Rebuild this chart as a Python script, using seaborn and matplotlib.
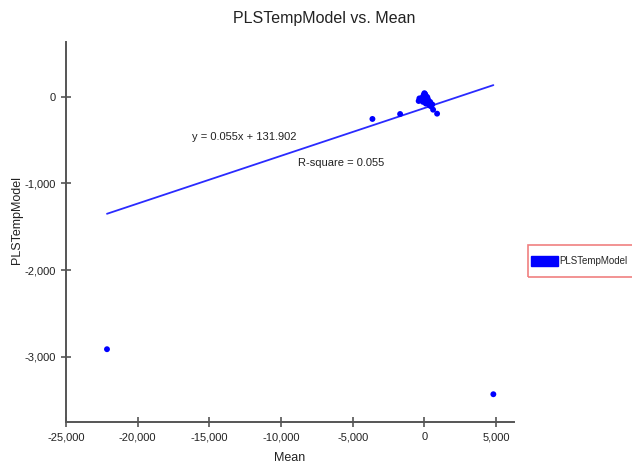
import matplotlib
matplotlib.use("Agg")
import matplotlib.pyplot as plt
import seaborn as sns
import pandas as pd
from matplotlib.patches import Patch, Rectangle

# Data
mean_x = [-22141, 4810, -3625, -1694, 606, 885,
          -250, -150, -50, 0, 50, 100, 150, 200, 250, 300,
          100, -100, 350, 450, 0, 200, 400, 550, -400, -350]
model_y = [-2911, -3430, -257, -200, -150, -196,
           -40, -10, 20, 40, 30, 10, -20, -50, -30, -70,
           -80, -60, -100, -110, -20, -5, -60, -90, -50, -20]
fit_x = [-22141, 4810]
fit_y = [-1350, 133]
x_ticks = [-25000, -20000, -15000, -10000, -5000, 0, 5000]
y_ticks = [0, -1000, -2000, -3000]
series_name = "PLSTempModel"
eq_text = "y = 0.055x + 131.902"
r2_text = "R-square = 0.055"

sns.set_theme(style="white")
plt.rcParams['font.family'] = ['Liberation Sans', 'DejaVu Sans']

df = pd.DataFrame({"Mean": mean_x, "PLSTempModel": model_y})
fit = pd.DataFrame({"x": fit_x, "y": fit_y})

fig = plt.figure(figsize=(6.32, 4.65), dpi=100)
ax = fig.add_axes([66/632, 1-422/465, (514-66)/632, (422-42)/465])

sns.lineplot(data=fit, x="x", y="y", ax=ax, color="#2a2aff", linewidth=1.3)
sns.scatterplot(data=df, x="Mean", y="PLSTempModel", ax=ax, color="#0000ff",
                s=18, edgecolor="none", linewidth=0, zorder=3)

ax.set_xlim(-25000, 6250)
ax.set_ylim(-3750, 630)
ax.set_xticks(x_ticks)
ax.set_yticks(y_ticks)
ax.set_xticklabels([f"{v:,}" for v in x_ticks], fontsize=8, color="#222222")
ax.set_yticklabels([f"{v:,}" for v in y_ticks], fontsize=8, color="#222222")
ax.tick_params(axis="both", direction="inout", length=7, width=1.2,
               color="#555555", pad=4, bottom=True, left=True)
for side in ["top", "right"]:
    ax.spines[side].set_visible(False)
for side in ["left", "bottom"]:
    ax.spines[side].set_color("#555555")
    ax.spines[side].set_linewidth(1.4)

ax.set_xlabel("Mean", fontsize=9, color="#222222", labelpad=7)
ax.set_ylabel("PLSTempModel", fontsize=9, color="#222222")
ax.yaxis.set_label_coords((23 - 66) / 448, (422 - 220) / 380)

fig.text(324/632, 1-18/465, "PLSTempModel vs. Mean", ha="center", va="center",
         fontsize=11.5, color="#222222")

ax.text(-16200, -470, eq_text, fontsize=8, color="#222222", va="center")
ax.text(-8800, -760, r2_text, fontsize=8, color="#222222", va="center")

# legend frame (partly beyond the right edge, as in the reference)
fig.patches.append(Rectangle((528/632, 1-277/465), 110/632, 32/465,
                             transform=fig.transFigure, fill=False,
                             edgecolor="#f08080", linewidth=1.2))
handle = Patch(facecolor="#0000ff", edgecolor="#0000ff")
leg = fig.legend([handle], [series_name], loc="center left",
                 bbox_to_anchor=(528/632, 1-261/465), frameon=False,
                 fontsize=7, handlelength=2.8, handleheight=1.3,
                 handletextpad=0.15, borderpad=0.3, borderaxespad=0)

fig.savefig("out.png", dpi=100)
